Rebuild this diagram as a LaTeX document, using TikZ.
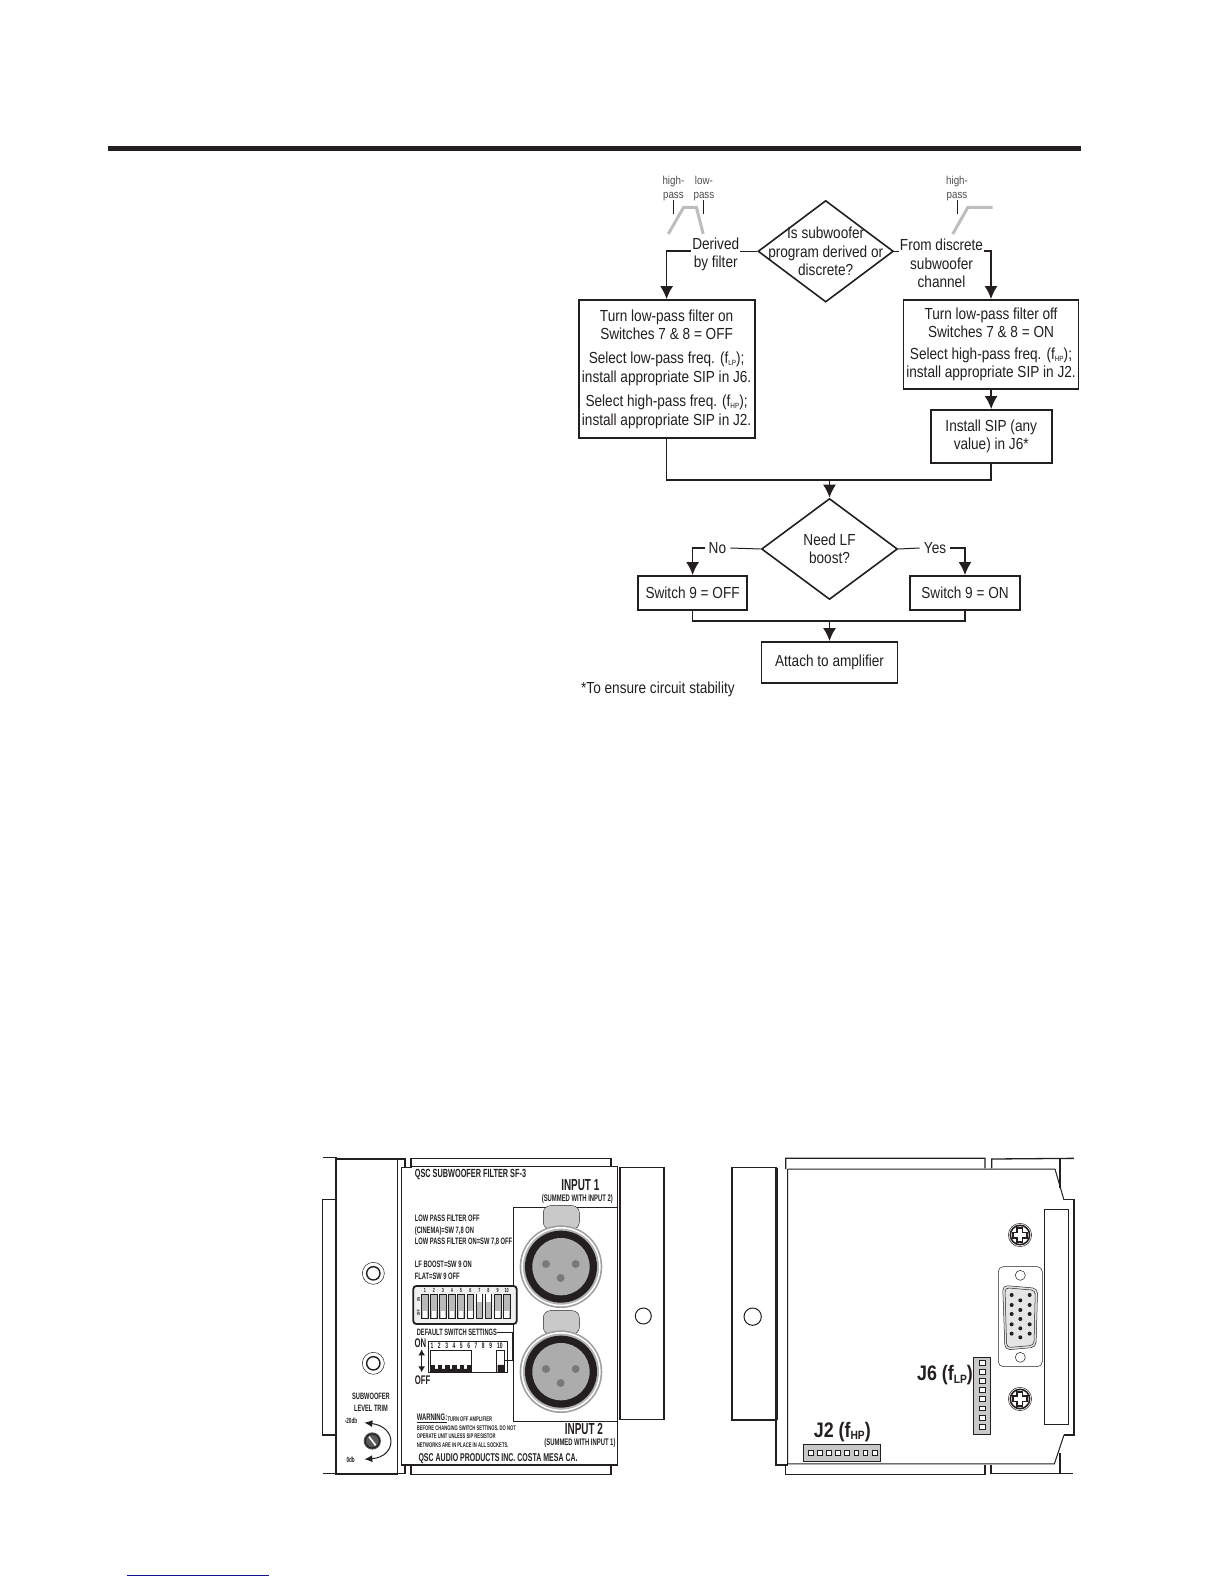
\documentclass[tikz,border=0pt]{standalone}
\usepackage{fontspec}
\setmainfont[FakeStretch=0.85]{Liberation Sans}
\newfontfamily\panelfont[FakeStretch=0.62]{Liberation Sans}
\newfontfamily\jackfont[FakeStretch=0.85]{Liberation Sans}
\usetikzlibrary{arrows.meta,shapes.geometric}
\definecolor{inkline}{HTML}{231F20}
\definecolor{curvegray}{HTML}{BDBDBD}
\definecolor{partgray}{HTML}{C9C9C9}
\definecolor{linkblue}{HTML}{101090}
\newcommand{\fsub}[2]{f\raisebox{-0.25ex}{\fontsize{#2}{#2}\selectfont #1}}
\tikzset{
  flowbox/.style={draw=inkline, line width=1.8pt, inner sep=0pt, align=center, fill=white},
  decision/.style={diamond, draw=inkline, line width=1.6pt, inner sep=0pt},
  flowlabel/.style={inner sep=1pt, align=center, fill=white},
  flowline/.style={draw=inkline, line width=1.7pt},
  thinline/.style={draw=inkline, line width=1pt},
  passlabel/.style={font=\fontsize{11.5}{14}\selectfont, align=center, inner sep=0pt, text=inkline!80},
  paneltext/.style={font=\panelfont\bfseries\fontsize{#1}{#1}\selectfont, anchor=west, inner sep=0pt, text=inkline},
  centertext/.style={paneltext=#1, anchor=center},
  jacktext/.style={font=\jackfont\bfseries\fontsize{21}{21}\selectfont, inner sep=0pt, text=inkline},
  wall/.style={draw=inkline, line width=1.3pt},
  hairline/.style={draw=inkline, line width=0.5pt}
}
\begin{document}
\begin{tikzpicture}[x=1pt, y=-1pt, >={Latex[length=13pt,width=13pt]},
    font=\fontsize{16}{18.4}\selectfont, text=inkline]
\useasboundingbox (0,0) rectangle (1224,1584);
% Page rule and link underline
\draw[line width=4.2pt, inkline] (108,148.5) -- (1081,148.5);
\draw[line width=1.5pt, linkblue] (126.7,1575.3) -- (269,1575.3);
% Filter sketches
\node[passlabel] (highleft) at (673.4,188.5) {high-\\pass};
\node[passlabel] (lowleft) at (703.9,188.5) {low-\\pass};
\node[passlabel] (highright) at (957,188.5) {high-\\pass};
\draw[line width=1pt, inkline] (673.4,200) -- (673.4,214);
\draw[line width=1pt, inkline] (703.9,200) -- (703.9,214);
\draw[line width=1pt, inkline] (957,200) -- (957,214);
\draw[line width=3pt, curvegray] (668.3,234) -- (683.6,207.3) -- (696.4,207.3) -- (703.2,234);
\draw[line width=3pt, curvegray] (952.7,234) -- (967.9,207.3) -- (992.6,207.3);
% First question
\node[decision, minimum width=135.4pt, minimum height=101.6pt, aspect=1.33,
  label={[align=center, inner sep=0pt]center:Is subwoofer\\program derived or\\discrete?}] (question) at (825.7,251.3) {};
\node[flowlabel] (derived) at (715.7,254.5) {Derived\\by filter};
\node[flowlabel] (discrete) at (941.5,263.5) {From discrete\\subwoofer\\channel};
% Setup boxes
\node[flowbox, minimum width=176pt, minimum height=137.7pt] (lowbox) at (666.6,368.9)
  {Turn low-pass filter on\\Switches 7 \& 8 = OFF\\[6pt]Select low-pass freq. (\fsub{LP}{7.5});\\install appropriate SIP in J6.\\[6pt]Select high-pass freq. (\fsub{HP}{7.5});\\install appropriate SIP in J2.};
\node[flowbox, minimum width=175pt, minimum height=89pt] (highbox) at (991,344.5)
  {Turn low-pass filter off\\Switches 7 \& 8 = ON\\[3pt]Select high-pass freq. (\fsub{HP}{7.5});\\install appropriate SIP in J2.};
\node[flowbox, minimum width=121pt, minimum height=52.7pt] (sipbox) at (991.2,436.3) {Install SIP (any\\value) in J6*};
% Second question
\node[decision, minimum width=136pt, minimum height=101pt, aspect=1.35,
  label={[align=center, inner sep=0pt]center:Need LF\\boost?}] (boost) at (829.5,549) {};
\node[flowlabel, inner xsep=4pt] (nolabel) at (717.4,548) {No};
\node[flowlabel, inner xsep=4pt] (yeslabel) at (935,548) {Yes};
\node[flowbox, minimum width=109.3pt, minimum height=34pt] (switchoff) at (692.6,593) {Switch 9 = OFF};
\node[flowbox, minimum width=109.4pt, minimum height=34pt] (switchon) at (965,593) {Switch 9 = ON};
\node[flowbox, minimum width=136pt, minimum height=40.7pt] (attach) at (829.5,662.3) {Attach to amplifier};
\node[inner sep=0pt, anchor=west] (footnote) at (581,689.5) {*To ensure circuit stability};
% Connectors
\coordinate (mergeone) at (829.5,480.3);
\coordinate (mergetwo) at (829.5,620.7);
\draw[thinline] (question.west) -- (derived.east |- question.west);
\draw[flowline, ->] (derived.west |- question.west) -| (lowbox.north);
\draw[thinline] (question.east) -- (discrete.west |- question.east);
\draw[flowline, ->] (discrete.east |- question.east) -| (highbox.north);
\draw[flowline, ->] (highbox.south) -- (sipbox.north);
\draw[flowline] (lowbox.south) |- (mergeone) -| (sipbox.south);
\draw[flowline, ->] (mergeone) -- (boost.north);
\draw[thinline] (boost.west) -- (nolabel.east);
\draw[flowline, ->] (nolabel.west) -| (switchoff.north);
\draw[thinline] (boost.east) -- (yeslabel.west);
\draw[flowline, ->] (yeslabel.east) -| (switchon.north);
\draw[flowline] (switchoff.south) |- (mergetwo) -| (switchon.south);
\draw[flowline, ->] (mergetwo) -- (attach.north);
% Front panel
\begin{scope}[shift={(310,1140)}, x=0.3333pt, y=-0.3333pt]
\draw[wall] (38,52) -- (78,52) (38,178) -- (78,178) (38,178) -- (38,885) -- (78,885) (38,1000) -- (78,1000);
\draw[wall] (78,52) -- (78,1002) -- (262,1002) -- (262,57) -- (78,57);
\draw[wall] (262,57) -- (285,57) -- (285,82) (305,82) -- (275,82) -- (275,975) -- (305,975) (285,975) -- (285,1000) -- (262,1000);
\draw[wall] (303,82) -- (303,55) -- (903,55) -- (903,78);
\draw[wall] (303,975) -- (303,1003) -- (903,1003) -- (903,975);
\draw[hairline] (305,78) -- (922,78);
\draw[wall] (305,975) -- (922,975) -- (922,78);
\draw[wall] (930,83) rectangle (1062,838);
\draw[hairline] (610,202) rectangle (922,843);
\draw[line width=1pt, inkline] (1000,528) circle (24);
\foreach \cy in {400,670} {
  \draw[hairline] (190,\cy) circle (33);
  \draw[line width=1.4pt, inkline] (190,\cy) circle (20);
}
% XLR sockets
\foreach \cy in {380,695} {
  \draw[fill=partgray, draw=inkline, line width=0.4pt, rounded corners=7pt] (700,\cy-183) rectangle (808,\cy-112);
  \fill[gray!75] (753,\cy) circle (124);
  \fill[white] (753,\cy) circle (119);
  \fill[gray!60] (753,\cy) circle (114);
  \fill[inkline] (753,\cy) circle (108);
  \fill[gray!65] (753,\cy) circle (86);
  \fill[gray!95!black] (708,\cy-8) circle (12) (797,\cy-8) circle (12) (752,\cy+34) circle (12);
}
% Panel lettering
\node[paneltext=11.8] (paneltitle) at (314,104) {QSC SUBWOOFER FILTER SF-3};
\node[centertext=16] (inputone) at (811,135) {INPUT 1};
\node[centertext=9.5] (sumone) at (802,178) {(SUMMED WITH INPUT 2)};
\node[paneltext=9.3] (lpoff) at (314,236) {LOW PASS FILTER OFF};
\node[paneltext=9.3] (cinema) at (314,273) {(CINEMA)=SW 7,8 ON};
\node[paneltext=9.3] (lpon) at (314,306) {LOW PASS FILTER ON=SW 7,8 OFF};
\node[paneltext=9.3] (lfboost) at (314,374) {LF BOOST=SW 9 ON};
\node[paneltext=9.3] (flat) at (314,410) {FLAT=SW 9 OFF};
% DIP switch
\draw[fill=gray!12, draw=inkline, line width=1.8pt, rounded corners=3pt] (310,438) rectangle (620,552);
\foreach \n/\sx/\ky in {1/345/512,2/372/512,3/399/512,4/426/512,5/453/512,6/481/512,7/508/462,8/535/462,9/563/512,10/590/512} {
  \node[centertext=6] (dipnum\n) at (\sx,452) {\n};
  \draw[fill=gray!55, draw=inkline, line width=0.5pt] (\sx-10,462) rectangle (\sx+10,535);
  \fill[white] (\sx-7,\ky) rectangle (\sx+7,\ky+23);
}
\node[centertext=4.5, rotate=90] (dipon) at (326,478) {ON};
\node[centertext=4.5, rotate=90] (dipoff) at (326,518) {OFF};
% Default settings
\node[paneltext=9.2] (defaults) at (320,578) {DEFAULT SWITCH SETTINGS};
\draw[line width=0.8pt, inkline] (560,576) -- (607,576) -- (607,660) -- (582,660);
\node[centertext=12.5] (defon) at (331,610) {ON};
\node[centertext=12.5] (defoff) at (338,720) {OFF};
\draw[line width=1.4pt, inkline, {Latex[length=6pt,width=7pt]}-{Latex[length=6pt,width=7pt]}] (335,628) -- (335,697);
\draw[line width=0.8pt, inkline] (355,605) rectangle (592,697);
\foreach \n/\sx in {1/366,2/388,3/410,4/432,5/454,6/476,7/498,8/520,9/542,10/570} {
  \node[centertext=8] (defnum\n) at (\sx,618) {\n};
}
\draw[line width=0.8pt, inkline] (361,632) rectangle (485,697);
\draw[line width=0.8pt, inkline] (560,632) rectangle (582,697);
\fill[inkline] (361,687) rectangle (485,697) (563,675) rectangle (582,697);
\foreach \sx in {361,383,405,427,449,471} {
  \fill[inkline] (\sx,675) rectangle (\sx+14,687);
}
% Level trim
\node[centertext=9.2] (trimone) at (183,770) {SUBWOOFER};
\node[centertext=9.2] (trimtwo) at (183,805) {LEVEL TRIM};
\node[centertext=7.5] (trimhigh) at (123,842) {-20db};
\node[centertext=7.5] (trimlow) at (122,960) {0db};
\draw[line width=1pt, inkline, {Latex[length=8pt,width=7pt]}-{Latex[length=8pt,width=7pt]}] (163,848) .. controls (262,860) and (262,950) .. (163,958);
\fill[gray!70!black] (187,903) circle (26);
\draw[line width=1.2pt, inkline] (187,903) circle (21);
\draw[line width=1.6pt, white] (177,890) -- (197,916);
% Warning text
\node[paneltext=9.5] (warning) at (320,835) {\underline{WARNING:}};
\node[paneltext=6.7] (warnone) at (412,837) {TURN OFF AMPLIFIER};
\node[paneltext=6.7] (warntwo) at (320,864) {BEFORE CHANGING SWITCH SETTINGS. DO NOT};
\node[paneltext=6.7] (warnthree) at (320,890) {OPERATE UNIT UNLESS SIP RESISTOR};
\node[paneltext=6.7] (warnfour) at (320,915) {NETWORKS ARE IN PLACE IN ALL SOCKETS.};
\node[centertext=16] (inputtwo) at (822,868) {INPUT 2};
\node[centertext=9.5] (sumtwo) at (810,908) {(SUMMED WITH INPUT 1)};
\node[paneltext=11.3] (maker) at (325,955) {QSC AUDIO PRODUCTS INC. COSTA MESA CA.};
\end{scope}
% Rear panel
\begin{scope}[shift={(720,1140)}, x=0.3333pt, y=-0.3333pt]
\draw[wall] (36,83) rectangle (168,840);
\draw[line width=2.2pt, inkline] (172,83) -- (172,840);
\draw[wall] (168,840) -- (168,975) -- (203,975);
\draw[line width=1pt, inkline] (203,87) -- (203,972) -- (1003,972) -- (1032,885);
\draw[line width=1pt, inkline] (203,87) -- (1005,87) -- (1032,180);
\draw[wall] (197,87) -- (197,55) -- (795,55) -- (795,85) (815,85) -- (815,57) -- (1062,55);
\draw[wall] (197,975) -- (197,1003) -- (795,1003) -- (795,975) (813,975) -- (813,1000) -- (1060,1000);
\draw[wall] (1020,55) -- (1020,145) (1020,940) -- (1020,1000);
\draw[wall] (1032,178) -- (1062,178) -- (1062,885) -- (1032,885);
\draw[fill=white, draw=inkline, line width=0.9pt] (973,208) rectangle (1045,853);
\draw[line width=1pt, inkline] (98,530) circle (26);
% Screws
\foreach \sy in {285,777} {
  \draw[hairline] (900,\sy) circle (35);
  \draw[line width=1.6pt, inkline] (900,\sy) circle (29);
  \draw[line width=7pt, inkline] (875,\sy) -- (925,\sy) (900,\sy-25) -- (900,\sy+25);
  \draw[line width=3.2pt, white] (882,\sy) -- (918,\sy) (900,\sy-18) -- (900,\sy+18);
}
% Sub-D connector
\draw[hairline, rounded corners=5pt] (835,380) rectangle (967,680);
\draw[hairline] (901,406) circle (15) (901,652) circle (15);
\draw[fill=gray!20, draw=inkline, line width=0.5pt, rounded corners=5pt] (848,436) -- (953,445) -- (948,622) -- (855,630) -- cycle;
\draw[hairline, rounded corners=4pt] (855,443) -- (946,451) -- (942,616) -- (860,623) -- cycle;
\foreach \px/\py in {875/465,875/495,875/522,875/553,875/581,901/481,901/510,901/537,901/565,901/592,929/465,929/495,929/522,929/553,929/581} {
  \fill[inkline] (\px,\py) circle (6);
}
% SIP sockets
\draw[fill=partgray, draw=inkline, line width=0.6pt] (760,652) rectangle (812,883);
\foreach \sy in {668,696,723,750,777,805,833,860} {
  \draw[fill=white, draw=inkline, line width=0.6pt] (777,\sy-7) rectangle (795,\sy+7);
}
\draw[fill=partgray, draw=inkline, line width=0.6pt] (250,914) rectangle (482,964);
\foreach \sx in {273,300,327,354,381,409,436,464} {
  \draw[fill=white, draw=inkline, line width=0.6pt] (\sx-7,932) rectangle (\sx+7,946);
}
\node[jacktext] (jsix) at (675,705) {J6 (\fsub{LP}{12})};
\node[jacktext] (jtwo) at (367,875) {J2 (\fsub{HP}{12})};
\end{scope}
\end{tikzpicture}
\end{document}
